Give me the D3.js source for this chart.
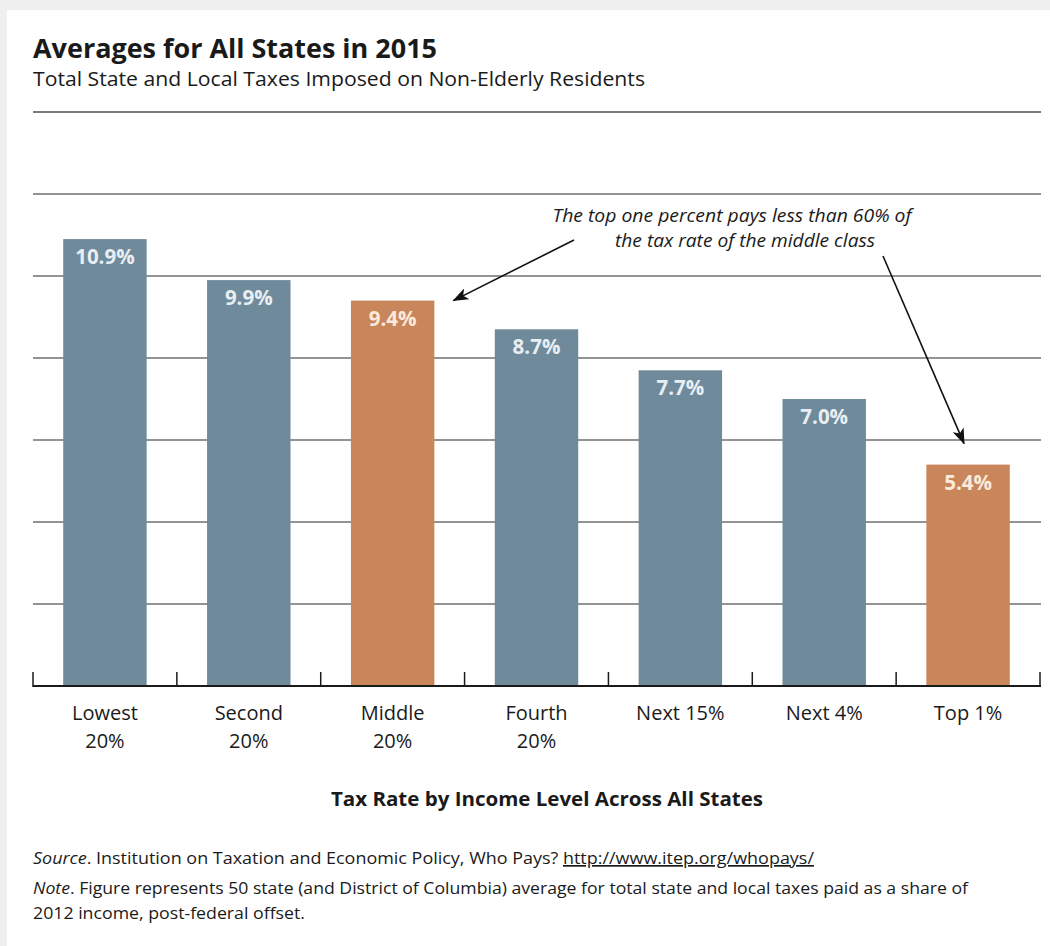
<!DOCTYPE html>
<html lang="en">
<head>
    <meta charset="UTF-8">
    <title>Averages for All States in 2015</title>
    <script src="https://d3js.org/d3.v7.min.js"></script>
    <style>
        html, body { margin: 0; padding: 0; background: #efefef; }
        svg { display: block; }
        text { font-family: "Open Sans", "Noto Sans", sans-serif; }
    </style>
</head>
<body>
    <svg class="chart" width="1050" height="946"></svg>

    <script>
    // data
        const groups = ["Lowest 20%", "Second 20%", "Middle 20%", "Fourth 20%", "Next 15%", "Next 4%", "Top 1%"]
        const groupLines = [["Lowest", "20%"], ["Second", "20%"], ["Middle", "20%"], ["Fourth", "20%"], ["Next 15%"], ["Next 4%"], ["Top 1%"]]
        const taxRates = [10.9, 9.9, 9.4, 8.7, 7.7, 7.0, 5.4]
        const highlighted = ["Middle 20%", "Top 1%"]
        const gridTicks = [2, 4, 6, 8, 10, 12]

        const svg = d3.select('.chart')

        // white panel on the light gray page
        svg.append('rect')
            .attr('x', 7).attr('y', 10)
            .attr('width', 1043).attr('height', 936)
            .attr('fill', '#fff')

        // squeeze a text element to the width it has in the original (its font is condensed)
        function fit(sel, w) {
            sel.attr('textLength', w).attr('lengthAdjust', 'spacingAndGlyphs')
            return sel
        }

        // titles
        fit(svg.append('text')
            .attr('x', 33).attr('y', 58)
            .attr('font-size', 27).attr('font-weight', 700).attr('fill', '#1a1a1a')
            .text('Averages for All States in 2015'), 404)

        fit(svg.append('text')
            .attr('x', 33).attr('y', 86)
            .attr('font-size', 20).attr('fill', '#1a1a1a')
            .text('Total State and Local Taxes Imposed on Non-Elderly Residents'), 612)

        svg.append('line')
            .attr('x1', 33).attr('x2', 1041)
            .attr('y1', 112).attr('y2', 112)
            .attr('stroke', '#7a7a7a').attr('stroke-width', 2)

        // scales
        const x = d3.scaleBand()
            .domain(groups)
            .range([33, 1040])
            .paddingInner(0.42)
            .paddingOuter(0.21)

        const y = d3.scaleLinear()
            .domain([0, 12])
            .range([686, 194])

        // gridlines
        svg.append('g')
            .selectAll('line')
            .data(gridTicks)
            .join('line')
            .attr('x1', 33).attr('x2', 1041)
            .attr('y1', d => y(d)).attr('y2', d => y(d))
            .attr('stroke', '#6f6f6f').attr('stroke-width', 1.3)

        // bars
        svg.append('g')
            .selectAll('rect')
            .data(groups)
            .join('rect')
            .attr('x', d => x(d))
            .attr('width', x.bandwidth())
            .attr('y', (d, i) => y(taxRates[i]))
            .attr('height', (d, i) => y(0) - y(taxRates[i]))
            .attr('fill', d => highlighted.includes(d) ? '#c8865a' : '#6f8a9b')

        // value labels inside bars
        svg.append('g')
            .selectAll('text')
            .data(groups)
            .join('text')
            .attr('x', d => x(d) + x.bandwidth() / 2)
            .attr('y', (d, i) => y(taxRates[i]) + 25)
            .attr('text-anchor', 'middle')
            .attr('font-size', 20.5).attr('font-weight', 700)
            .attr('fill', d => highlighted.includes(d) ? '#fbeadb' : '#e8eef2')
            .text((d, i) => taxRates[i].toFixed(1) + '%')

        // x axis: baseline with upward ticks at band boundaries
        const step = x.step()
        const bounds = d3.range(groups.length + 1).map(i => x(groups[0]) - step * x.paddingInner() / 2 + i * step)

        const axis = svg.append('g')
        axis.append('line')
            .attr('x1', 33).attr('x2', 1041)
            .attr('y1', y(0)).attr('y2', y(0))
            .attr('stroke', '#1a1a1a').attr('stroke-width', 2)
        axis.selectAll('.tick')
            .data(bounds)
            .join('line')
            .attr('class', 'tick')
            .attr('x1', d => d).attr('x2', d => d)
            .attr('y1', y(0) + 1).attr('y2', y(0) - 14)
            .attr('stroke', '#1a1a1a').attr('stroke-width', 1.5)

        // category labels
        const cat = svg.append('g')
            .selectAll('text')
            .data(groups)
            .join('text')
            .attr('x', d => x(d) + x.bandwidth() / 2)
            .attr('y', 720)
            .attr('text-anchor', 'middle')
            .attr('font-size', 20).attr('fill', '#1a1a1a')
        cat.selectAll('tspan')
            .data((d, i) => groupLines[i])
            .join('tspan')
            .attr('x', function () { return this.parentNode.getAttribute('x') })
            .attr('dy', (d, i) => i === 0 ? 0 : 28)
            .text(d => d)

        // axis title
        fit(svg.append('text')
            .attr('x', 547).attr('y', 806)
            .attr('text-anchor', 'middle')
            .attr('font-size', 20).attr('font-weight', 700).attr('fill', '#1a1a1a')
            .text('Tax Rate by Income Level Across All States'), 432)

        // annotation
        const note = svg.append('text')
            .attr('font-size', 18.5).attr('font-style', 'italic').attr('fill', '#1a1a1a')
            .attr('text-anchor', 'middle')
        fit(note.append('tspan').attr('x', 732).attr('y', 222)
            .text('The top one percent pays less than 60% of'), 359)
        fit(note.append('tspan').attr('x', 745).attr('y', 247)
            .text('the tax rate of the middle class'), 260)

        svg.append('defs').append('marker')
            .attr('id', 'head')
            .attr('viewBox', '0 0 16 12')
            .attr('refX', 15).attr('refY', 6)
            .attr('markerWidth', 16).attr('markerHeight', 12)
            .attr('markerUnits', 'userSpaceOnUse')
            .attr('orient', 'auto')
            .append('path')
            .attr('d', 'M0,0 L16,6 L0,12 L4,6 Z')
            .attr('fill', '#111')

        const midGroup = groups[2], topGroup = groups[6]
        const arrows = [
            { x1: 574, y1: 240, x2: x(midGroup) + x.bandwidth() + 19, y2: y(taxRates[2]) },
            { x1: 883, y1: 256, x2: x(topGroup) + x.bandwidth() / 2 - 4, y2: y(taxRates[6]) - 21 }
        ]
        svg.append('g')
            .selectAll('line')
            .data(arrows)
            .join('line')
            .attr('x1', d => d.x1).attr('y1', d => d.y1)
            .attr('x2', d => d.x2).attr('y2', d => d.y2)
            .attr('stroke', '#111').attr('stroke-width', 1.6)
            .attr('marker-end', 'url(#head)')

        // source and note
        const src = svg.append('text')
            .attr('x', 33).attr('y', 864)
            .attr('font-size', 17).attr('fill', '#1a1a1a')
        src.append('tspan').attr('font-style', 'italic').text('Source')
        src.append('tspan').text('. Institution on Taxation and Economic Policy, Who Pays? ')
        src.append('tspan').attr('text-decoration', 'underline').text('http://www.itep.org/whopays/')
        fit(src, 781)

        const n1 = svg.append('text')
            .attr('x', 33).attr('y', 894)
            .attr('font-size', 17).attr('fill', '#1a1a1a')
        n1.append('tspan').attr('font-style', 'italic').text('Note')
        n1.append('tspan').text('. Figure represents 50 state (and District of Columbia) average for total state and local taxes paid as a share of')
        fit(n1, 935)

        fit(svg.append('text')
            .attr('x', 33).attr('y', 919)
            .attr('font-size', 17).attr('fill', '#1a1a1a')
            .text('2012 income, post-federal offset.'), 272)

    </script>
</body>
</html>
